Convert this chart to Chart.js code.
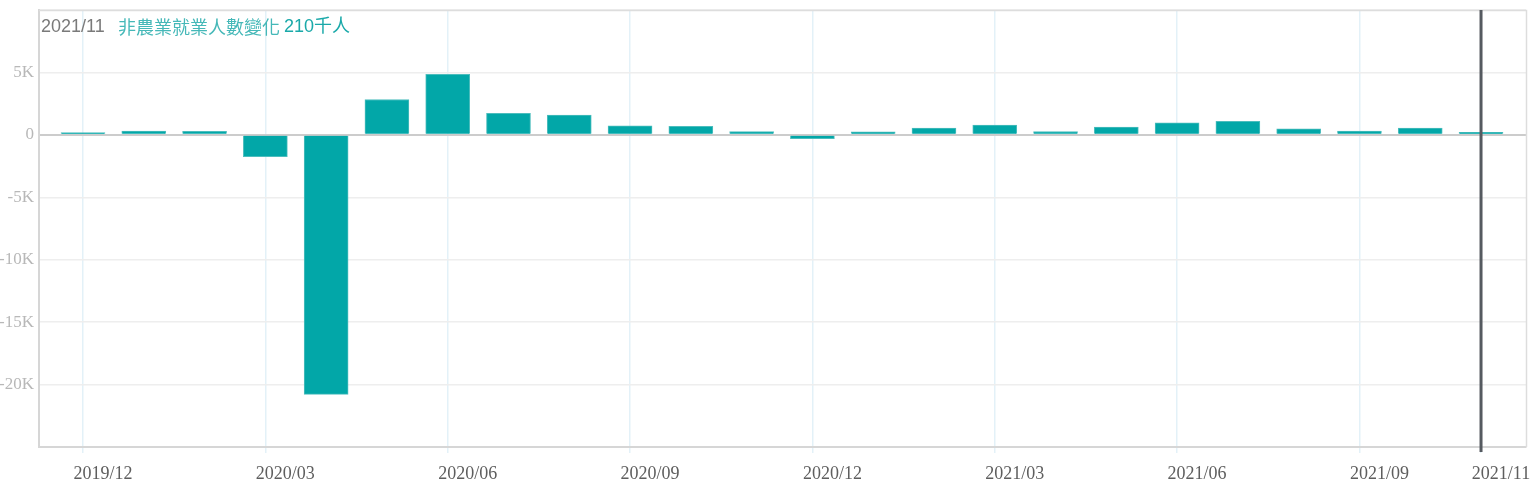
<!DOCTYPE html>
<html>
<head>
<meta charset="utf-8">
<script src="https://cdn.jsdelivr.net/npm/chart.js@4"></script>
<style>
  html, body { margin: 0; padding: 0; background: #fff; }
  #wrap { width: 1536px; height: 490px; position: relative; }
</style>
</head>
<body>
<div id="wrap"><canvas id="c" width="1536" height="490"></canvas></div>
<script>
// ---- data ----
const months = ["2019/12","2020/01","2020/02","2020/03","2020/04","2020/05","2020/06","2020/07","2020/08","2020/09","2020/10","2020/11","2020/12","2021/01","2021/02","2021/03","2021/04","2021/05","2021/06","2021/07","2021/08","2021/09","2021/10","2021/11"];
const payrolls = [184, 310, 290, -1750, -20780, 2830, 4850, 1726, 1583, 716, 680, 264, -306, 233, 536, 785, 269, 614, 962, 1091, 483, 312, 546, 210];
const tickIndices = [0, 3, 6, 9, 12, 15, 18, 21, 23];
const yTicks = [10000, 5000, 0, -5000, -10000, -15000, -20000, -25000];
const titleDate = "2021/11";
const titleLabel = "非農業就業人數變化";
const titleValue = "210千人";
const highlightIndex = 23;

const overlay = {
  id: 'overlay',
  afterDatasetsDraw(chart) {
    const { ctx, chartArea: a, scales } = chart;
    ctx.save();
    // frame
    ctx.strokeStyle = '#dddddd';
    ctx.lineWidth = 1.5;
    ctx.beginPath();
    ctx.moveTo(a.left, a.top + 0.5); ctx.lineTo(a.right + 0.5, a.top + 0.5);
    ctx.lineTo(a.right + 0.5, a.bottom);
    ctx.stroke();
    // highlight line
    const x = scales.x.getPixelForValue(highlightIndex);
    ctx.strokeStyle = '#555a60';
    ctx.lineWidth = 3;
    ctx.beginPath();
    ctx.moveTo(x, a.top);
    ctx.lineTo(x, a.bottom + 5);
    ctx.stroke();
    // title
    ctx.textBaseline = 'middle';
    ctx.textAlign = 'left';
    ctx.font = '18px "Liberation Sans", Arial, sans-serif';
    ctx.fillStyle = '#7a7a7a';
    ctx.fillText(titleDate, 41, 27);
    ctx.font = '18px "Noto Sans CJK TC", "Liberation Sans", sans-serif';
    ctx.fillStyle = '#45b8b8';
    ctx.fillText(titleLabel, 118, 27);
    const w = ctx.measureText(titleLabel + ' ').width;
    ctx.font = '18px "Liberation Sans", "Noto Sans CJK TC", sans-serif';
    ctx.fillStyle = '#1aa9a9';
    ctx.fillText(titleValue, 118 + w, 27);
    ctx.restore();
  }
};

new Chart(document.getElementById('c'), {
  type: 'bar',
  data: {
    datasets: [{
      data: payrolls.map((v, i) => ({ x: i, y: v })),
      backgroundColor: '#02a7a8',
      borderColor: '#4cbdbd',
      borderWidth: 1,
      barThickness: 44
    }]
  },
  options: {
    responsive: false,
    animation: false,
    events: [],
    layout: { padding: { top: 10, right: 10, left: 0, bottom: 0 } },
    plugins: { legend: { display: false }, tooltip: { enabled: false } },
    scales: {
      x: {
        type: 'linear',
        min: -0.724,
        max: 23.74,
        offset: false,
        afterBuildTicks(scale) { scale.ticks = tickIndices.map(v => ({ value: v })); },
        afterFit(scale) { scale.height = 43; scale.paddingLeft = 0; scale.paddingRight = 0; },
        grid: { offset: false, color: '#e3f1f8', lineWidth: 1.5, tickLength: 6, drawTicks: true },
        border: { color: '#d6d6d6', width: 2 },
        ticks: {
          autoSkip: false,
          maxRotation: 0,
          labelOffset: 20,
          padding: 10,
          color: '#5e5e5e',
          font: { family: '"Liberation Serif", serif', size: 18 },
          callback: v => months[v] || ''
        }
      },
      y: {
        min: -25000,
        max: 10000,
        afterBuildTicks(scale) { scale.ticks = yTicks.map(v => ({ value: v })); },
        afterFit(scale) { scale.width = 39; scale.paddingTop = 0; scale.paddingBottom = 0; },
        grid: {
          drawTicks: false,
          color: c => c.tick && c.tick.value === 0 ? '#cccccc' : '#eeeeee',
          lineWidth: c => c.tick && c.tick.value === 0 ? 2 : 1.5
        },
        border: { color: '#d6d6d6', width: 2 },
        ticks: {
          padding: 5,
          color: '#b8b8b8',
          font: { family: '"Liberation Serif", serif', size: 17 },
          callback: v => (v === 10000 || v === -25000) ? '' : (v === 0 ? '0' : (v / 1000) + 'K')
        }
      }
    }
  },
  plugins: [overlay]
});
</script>
</body>
</html>
